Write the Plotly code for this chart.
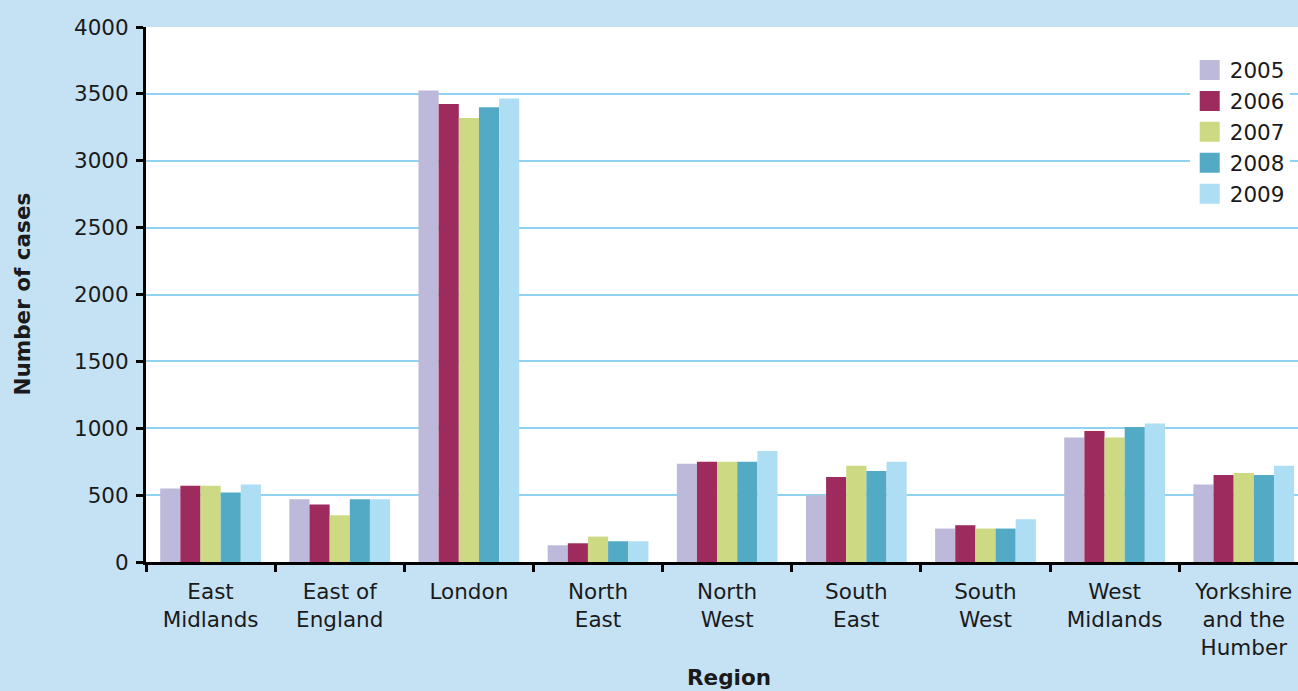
import plotly.graph_objects as go

regions = ["East<br>Midlands", "East of<br>England", "London", "North<br>East", "North<br>West",
           "South<br>East", "South<br>West", "West<br>Midlands", "Yorkshire<br>and the<br>Humber"]
years = ["2005", "2006", "2007", "2008", "2009"]
v2005 = [550, 470, 3525, 125, 735, 500, 250, 930, 580]
v2006 = [570, 430, 3425, 140, 750, 635, 275, 980, 650]
v2007 = [570, 350, 3320, 190, 750, 720, 250, 930, 665]
v2008 = [520, 470, 3400, 155, 750, 680, 250, 1010, 650]
v2009 = [580, 470, 3465, 155, 830, 750, 320, 1035, 720]
series = [v2005, v2006, v2007, v2008, v2009]
colors = ["#BDB9DA", "#9E2B5E", "#CDD983", "#53AAC5", "#AEDEF4"]

FONT = "DejaVu Sans"
FS = 21.5
fig = go.Figure()
for y, vals, c in zip(years, series, colors):
    fig.add_trace(go.Bar(name=y, x=regions, y=vals, marker=dict(color=c, line=dict(width=0)),
                         showlegend=False, legendgroup=y))
# legend entries with larger square swatches
for y, c in zip(years, colors):
    fig.add_trace(go.Scatter(name=y, x=[None], y=[None], mode="markers", legendgroup=y,
                             marker=dict(symbol="square", size=16, color=c,
                                         line=dict(color=c, width=4)),
                             showlegend=True))

fig.update_layout(
    width=1298, height=691,
    margin=dict(l=146, r=0, t=27, b=129),
    paper_bgcolor="#C5E2F5", plot_bgcolor="white",
    barmode="group", bargap=0.22, bargroupgap=0,
    font=dict(family=FONT, size=FS, color="#1a1a1a"),
    legend=dict(x=0.906, y=0.958, xanchor="left", yanchor="top", bgcolor="white",
                font=dict(size=FS), tracegroupgap=0, itemsizing="trace"),
    xaxis=dict(range=[-0.5, 8.42], showline=True, linecolor="black", linewidth=3,
               ticks="outside", tickson="boundaries", ticklen=7, tickwidth=3, tickcolor="black",
               showgrid=False, tickfont=dict(size=FS), ticklabelstandoff=8),
    yaxis=dict(range=[0, 4000], dtick=500, showline=True, linecolor="black", linewidth=3,
               ticks="outside", ticklen=7, tickwidth=3, tickcolor="black",
               gridcolor="#8FD3F0", gridwidth=2, zeroline=False, tickfont=dict(size=FS),
               ticklabelstandoff=3),
    annotations=[
        dict(text="<b>Region</b>", xref="paper", yref="paper", x=0.506, y=-0.215,
             xanchor="center", yanchor="middle", showarrow=False, font=dict(size=FS)),
        dict(text="<b>Number of cases</b>", xref="paper", yref="paper", x=-0.1076, y=0.5,
             xanchor="center", yanchor="middle", textangle=-90, showarrow=False,
             font=dict(size=FS)),
    ],
)
fig.write_html("out.html")
